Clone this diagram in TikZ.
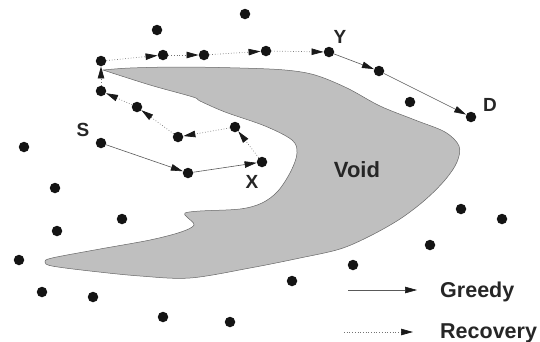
\documentclass[tikz,border=0pt]{standalone}
\usepackage{fontspec}
\setmainfont{Liberation Sans}
\usetikzlibrary{arrows.meta}
\begin{document}
\begin{tikzpicture}[x=1pt,y=-1pt,
  dot/.style={circle,fill=black!92,inner sep=0pt,minimum size=10.5pt},
  lbl/.style={font=\fontsize{19}{21}\selectfont\bfseries,text=black!85,inner sep=0pt},
  leg/.style={font=\fontsize{21.5}{24}\selectfont\bfseries,text=black!85,inner sep=0pt,anchor=base west},
  tipA/.tip={Triangle[length=12pt,width=6.5pt,color=black!90]},
  greedy/.style={draw=black!65,line width=0.6pt,-tipA},
  recov/.style={draw=black!55,line width=0.7pt,dash pattern=on 0.7pt off 2pt,-tipA}]
\useasboundingbox (0,0) rectangle (540,341);
% Void region
\filldraw[fill=black!25, draw=black!60, line width=0.5pt]
  plot[smooth, tension=0.55] coordinates {(103,70) (130,68) (180,67) (240,68) (285,70) (315,75)
   (347,88) (380,106) (415,120) (445,132) (459,146) (457,162) (445,180) (425,200) (400,219)
   (370,236) (340,249) (300,258) (250,268) (190,278) (140,276) (90,271) (52,266) (45,262)
   (52,258) (100,249) (150,240) (181,232) (194,225) (187,217) (185,213) (200,211) (240,209)
   (262,203) (278,191) (291,171) (297,153) (292,140) (265,126) (225,112) (200,101) (193,97)
   (150,85) (103,70)} -- cycle;
\node[font=\fontsize{22}{24}\selectfont\bfseries,text=black!85] (void) at (357,170) {Void};
% nodes
\node[dot] (n1) at (245,14) {};
\node[dot] (n2) at (157,30) {};
\node[dot] (p1) at (101,61) {};
\node[dot] (p2) at (163,55) {};
\node[dot] (p3) at (204,55) {};
\node[dot] (p4) at (266,51) {};
\node[dot] (Y) at (329,52) {};
\node[dot] (g1) at (379,71) {};
\node[dot] (n3) at (410,102) {};
\node[dot] (D) at (471,117) {};
\node[dot] (r5) at (101,91) {};
\node[dot] (r4) at (137,107) {};
\node[dot] (r3) at (178,137) {};
\node[dot] (r2) at (235,127) {};
\node[dot] (S) at (101,143) {};
\node[dot] (g0) at (188,173) {};
\node[dot] (X) at (262,162) {};
\node[dot] (n4) at (24,147) {};
\node[dot] (n5) at (55,188) {};
\node[dot] (n6) at (122,219) {};
\node[dot] (n7) at (57,231) {};
\node[dot] (n8) at (19,260) {};
\node[dot] (n9) at (42,292) {};
\node[dot] (n10) at (93,297) {};
\node[dot] (n11) at (163,317) {};
\node[dot] (n12) at (230,322) {};
\node[dot] (n13) at (292,281) {};
\node[dot] (n14) at (353,265) {};
\node[dot] (n15) at (430,245) {};
\node[dot] (n16) at (461,209) {};
\node[dot] (n17) at (502,219) {};
% labels
\node[lbl] (lS) at (83,130) {S};
\node[lbl] (lX) at (252,182) {X};
\node[lbl] (lY) at (340,37) {Y};
\node[lbl] (lD) at (490,105) {D};
% greedy
\draw[greedy] (S) -- (g0);
\draw[greedy] (g0) -- (X);
\draw[greedy] (Y) -- (g1);
\draw[greedy] (g1) -- (D);
% recovery
\draw[recov] (X) -- (r2);
\draw[recov] (r2) -- (r3);
\draw[recov] (r3) -- (r4);
\draw[recov] (r4) -- (r5);
\draw[recov] (r5) -- (p1);
\draw[recov] (p1) -- (p2);
\draw[recov] (p2) -- (p3);
\draw[recov] (p3) -- (p4);
\draw[recov] (p4) -- (Y);
% legend
\coordinate (ga) at (348,290);
\coordinate (gb) at (417,290);
\coordinate (ra) at (344,332);
\coordinate (rb) at (413,332);
\draw[greedy] (ga) -- (gb);
\draw[recov] (ra) -- (rb);
\node[leg] (tg) at (440,297) {Greedy};
\node[leg] (tr) at (440,338) {Recovery};
\end{tikzpicture}
\end{document}
